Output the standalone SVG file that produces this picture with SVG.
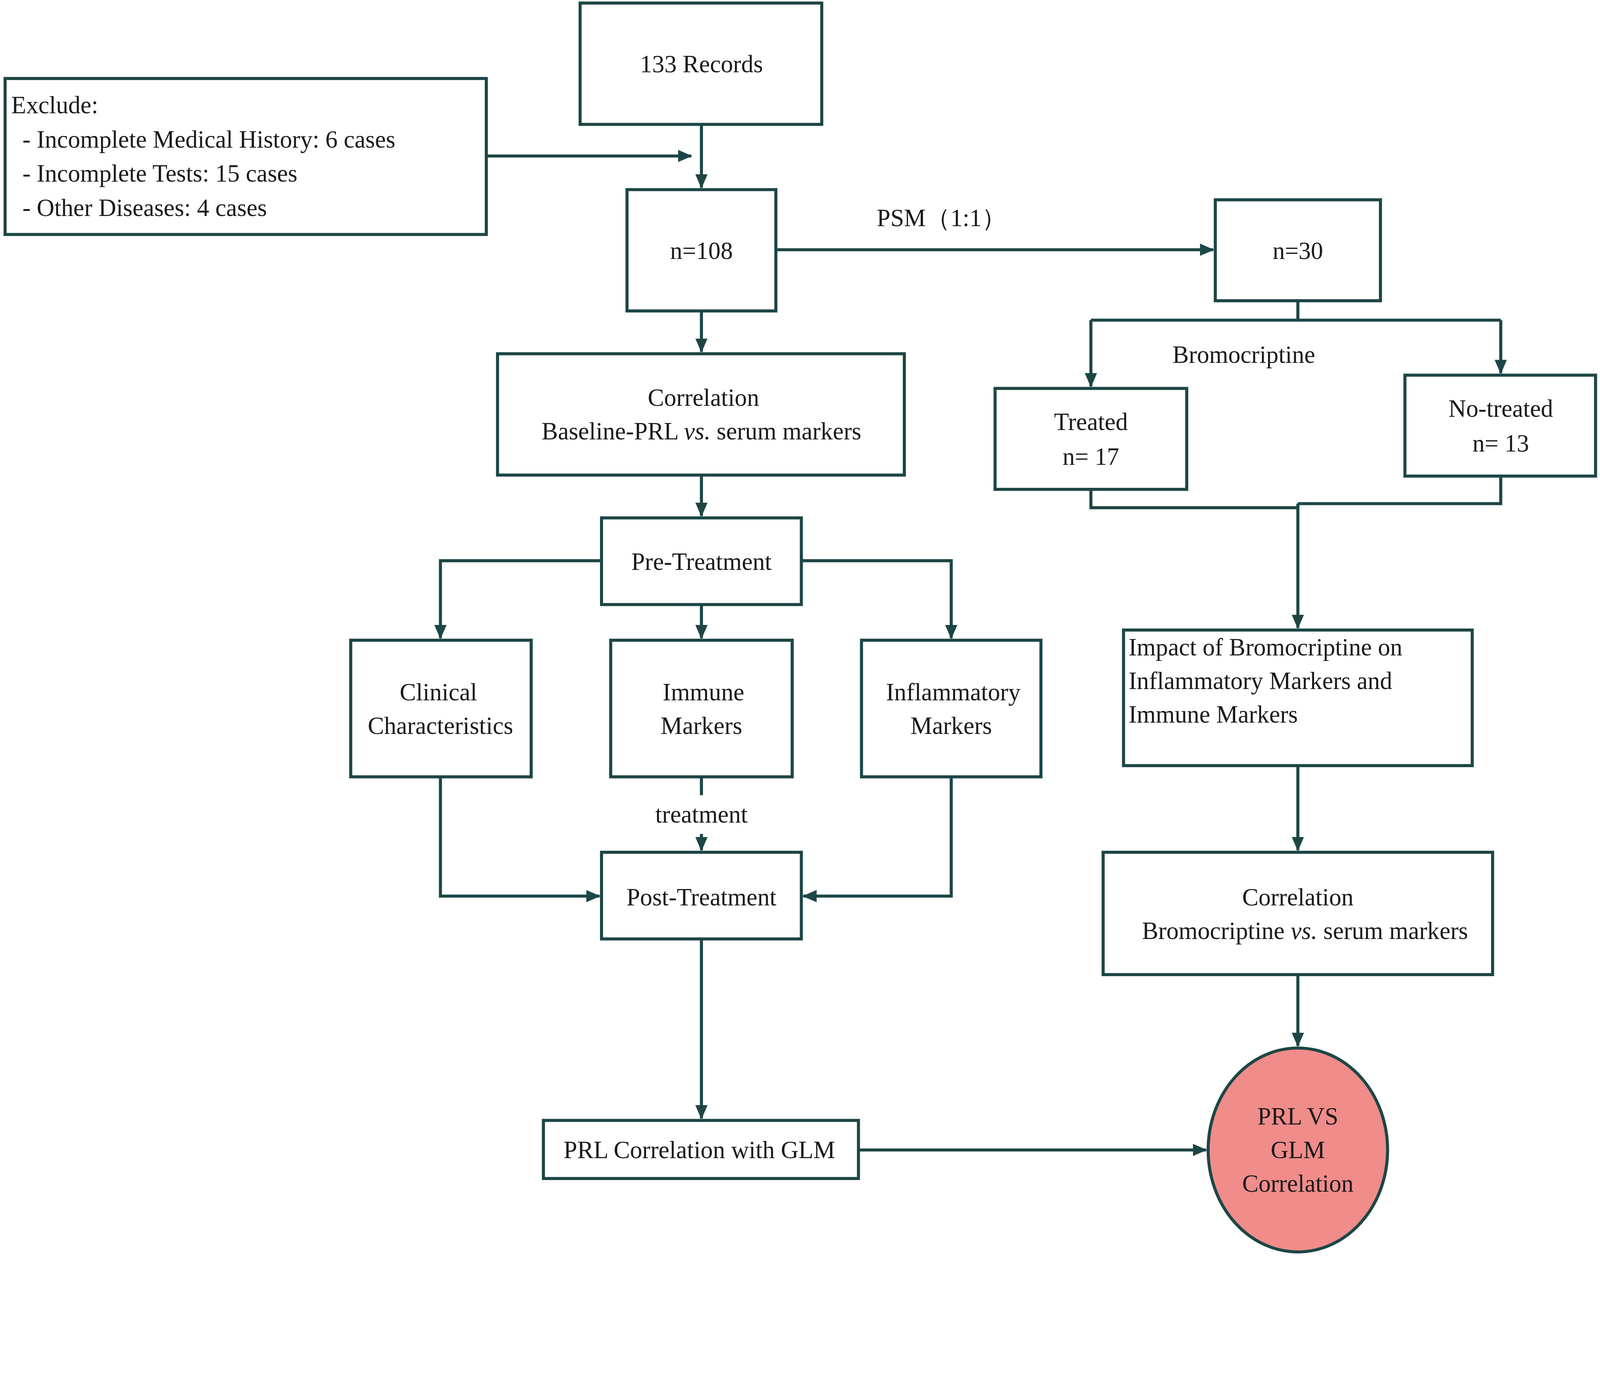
<svg xmlns="http://www.w3.org/2000/svg" width="4488" height="3533" viewBox="0 0 4488 3533">
<style>
.b{fill:#fff;stroke:#1d4646;stroke-width:3}
.c{fill:none;stroke:#1d4646;stroke-width:3}
text{font-family:"Liberation Serif","Times New Roman",serif;font-size:24px;fill:#1a1a1a}
.m{text-anchor:middle}
</style>
<defs><marker id="a" markerUnits="userSpaceOnUse" markerWidth="14" markerHeight="14" viewBox="0 0 14 14" refX="13" refY="7" orient="auto"><path d="M0,1 L14,7 L0,13 Z" fill="#1d4646"/></marker></defs>
<rect width="4488" height="3533" fill="#fff"/>
<g transform="scale(2.61)">
<g id="connectors">
<path class="c" marker-end="url(#a)" d="M688,122V184"/>
<path class="c" marker-end="url(#a)" d="M477,153H678"/>
<path class="c" marker-end="url(#a)" d="M761,245H1190"/>
<path class="c" marker-end="url(#a)" d="M688,305V345"/>
<path class="c" d="M1273,295V314M1070,314H1472"/>
<path class="c" marker-end="url(#a)" d="M1070,314V379"/>
<path class="c" marker-end="url(#a)" d="M1472,314V366"/>
<path class="c" d="M1070,480V498H1273M1472,467V494H1273"/>
<path class="c" marker-end="url(#a)" d="M1273,494V616"/>
<path class="c" marker-end="url(#a)" d="M688,466V506"/>
<path class="c" marker-end="url(#a)" d="M590,550H432V626"/>
<path class="c" marker-end="url(#a)" d="M786,550H933V626"/>
<path class="c" marker-end="url(#a)" d="M688,593V626"/>
<path class="c" d="M688,762V780"/>
<path class="c" marker-end="url(#a)" d="M688,818V834"/>
<path class="c" marker-end="url(#a)" d="M432,762V879H588"/>
<path class="c" marker-end="url(#a)" d="M933,762V879H788"/>
<path class="c" marker-end="url(#a)" d="M688,921V1097"/>
<path class="c" marker-end="url(#a)" d="M842,1128H1183"/>
<path class="c" marker-end="url(#a)" d="M1273,751V834"/>
<path class="c" marker-end="url(#a)" d="M1273,956V1026"/>
<text x="860" y="222">PSM（1:1）</text>
<text class="m" x="1220" y="356">Bromocriptine</text>
<text class="m" x="688" y="807">treatment</text>
</g>
<g id="records"><rect class="b" x="569" y="3" width="237" height="119"/><text class="m" x="688" y="71">133 Records</text></g>
<g id="exclude"><rect class="b" x="5" y="77" width="472" height="153"/>
<text x="11" y="111">Exclude:</text>
<text x="22" y="145">- Incomplete Medical History: 6 cases</text>
<text x="22" y="178">- Incomplete Tests: 15 cases</text>
<text x="22" y="212">- Other Diseases: 4 cases</text></g>
<g id="n108"><rect class="b" x="615" y="186" width="146" height="119"/><text class="m" x="688" y="254">n=108</text></g>
<g id="n30"><rect class="b" x="1192" y="196" width="162" height="99"/><text class="m" x="1273" y="254">n=30</text></g>
<g id="corr1"><rect class="b" x="488" y="347" width="399" height="119"/><text class="m" x="690" y="398">Correlation</text><text class="m" x="688" y="431">Baseline-PRL <tspan font-style="italic">vs.</tspan> serum markers</text></g>
<g id="treated"><rect class="b" x="976" y="381" width="188" height="99"/><text class="m" x="1070" y="422">Treated</text><text class="m" x="1070" y="456">n= 17</text></g>
<g id="notreated"><rect class="b" x="1378" y="368" width="187" height="99"/><text class="m" x="1472" y="409">No-treated</text><text class="m" x="1472" y="443">n= 13</text></g>
<g id="pre"><rect class="b" x="590" y="508" width="196" height="85"/><text class="m" x="688" y="559">Pre-Treatment</text></g>
<g id="clinical"><rect class="b" x="344" y="628" width="177" height="134"/><text class="m" x="430" y="687">Clinical</text><text class="m" x="432" y="720">Characteristics</text></g>
<g id="immune"><rect class="b" x="599" y="628" width="178" height="134"/><text class="m" x="690" y="687">Immune</text><text class="m" x="688" y="720">Markers</text></g>
<g id="inflam"><rect class="b" x="845" y="628" width="176" height="134"/><text class="m" x="935" y="687">Inflammatory</text><text class="m" x="933" y="720">Markers</text></g>
<g id="impact"><rect class="b" x="1102" y="618" width="342" height="133"/><text x="1107" y="643">Impact of Bromocriptine on</text><text x="1107" y="676">Inflammatory Markers and</text><text x="1107" y="709">Immune Markers</text></g>
<g id="post"><rect class="b" x="590" y="836" width="196" height="85"/><text class="m" x="688" y="888">Post-Treatment</text></g>
<g id="corr2"><rect class="b" x="1082" y="836" width="382" height="120"/><text class="m" x="1273" y="888">Correlation</text><text class="m" x="1280" y="921">Bromocriptine <tspan font-style="italic">vs.</tspan> serum markers</text></g>
<g id="glm"><rect class="b" x="533" y="1099" width="309" height="57"/><text class="m" x="686" y="1136">PRL Correlation with GLM</text></g>
<g id="result"><ellipse cx="1273" cy="1128" rx="88" ry="100" fill="#f08c8a" stroke="#1d4646" stroke-width="3"/><text class="m" x="1273" y="1103">PRL VS</text><text class="m" x="1273" y="1136">GLM</text><text class="m" x="1273" y="1169">Correlation</text></g>
</g>
</svg>
